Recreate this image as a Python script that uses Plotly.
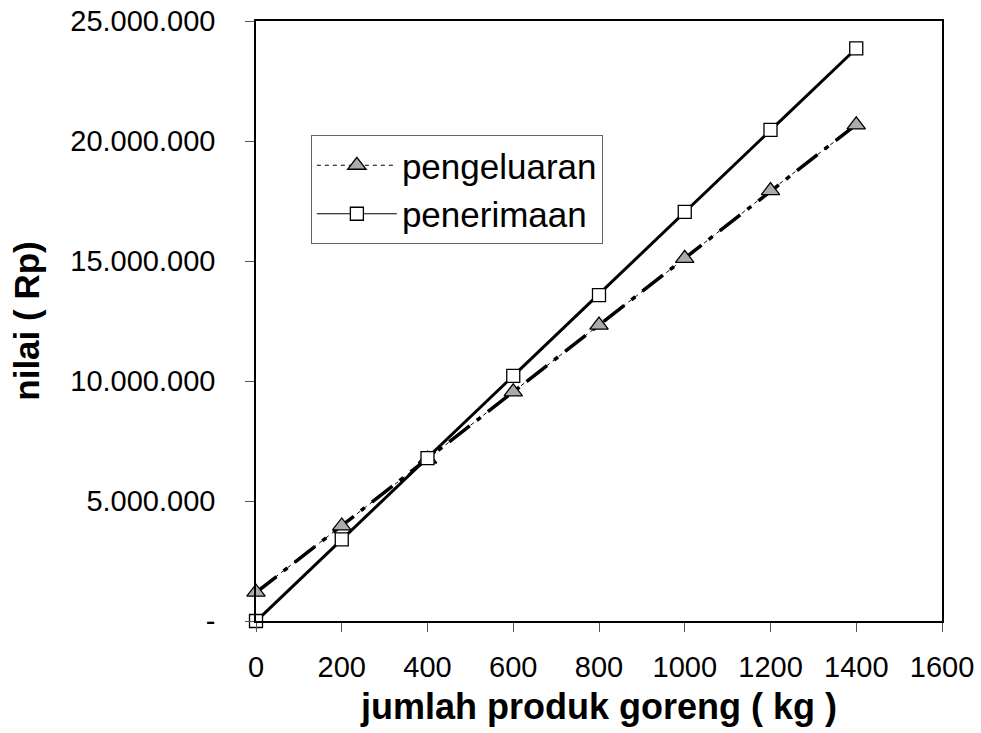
import numpy as np
import plotly.graph_objects as go

# Data
jumlah_kg = [0, 200, 400, 600, 800, 1000, 1200, 1400]
pengeluaran = [1200000, 3960000, 6750000, 9550000, 12330000, 15110000, 17930000, 20670000]
penerimaan = [0, 3400000, 6790000, 10210000, 13580000, 17050000, 20460000, 23860000]

y_tickvals = [0, 5000000, 10000000, 15000000, 20000000, 25000000]
y_ticktext = ["-", "5.000.000", "10.000.000", "15.000.000", "20.000.000", "25.000.000"]
x_tickvals = [0, 200, 400, 600, 800, 1000, 1200, 1400, 1600]

FONT = "Liberation Sans, Arial, sans-serif"

# linear trend lines (as in the spreadsheet chart)
xs = np.array(jumlah_kg, dtype=float)
trend_x = [xs.min(), xs.max()]
p_out = np.polyfit(xs, np.array(pengeluaran, dtype=float), 1)
p_in = np.polyfit(xs, np.array(penerimaan, dtype=float), 1)

fig = go.Figure()

# thick trend lines
fig.add_trace(go.Scatter(
    x=trend_x, y=list(np.polyval(p_out, trend_x)), mode="lines",
    line=dict(color="black", width=3.5, dash="26px,9px,5px,9px"),
    showlegend=False, hoverinfo="skip", cliponaxis=False))
fig.add_trace(go.Scatter(
    x=trend_x, y=list(np.polyval(p_in, trend_x)), mode="lines",
    line=dict(color="black", width=3), showlegend=False,
    hoverinfo="skip", cliponaxis=False))

# data series
fig.add_trace(go.Scatter(
    x=jumlah_kg, y=pengeluaran, mode="lines+markers", name="pengeluaran",
    line=dict(color="black", width=1, dash="4px,4px"),
    marker=dict(symbol="triangle-up", size=16, color="#ababab",
                line=dict(color="black", width=1.3)),
    cliponaxis=False))
fig.add_trace(go.Scatter(
    x=jumlah_kg, y=penerimaan, mode="lines+markers", name="penerimaan",
    line=dict(color="black", width=1),
    marker=dict(symbol="square", size=13, color="white",
                line=dict(color="black", width=1.3)),
    cliponaxis=False))

fig.update_layout(
    width=981, height=733,
    margin=dict(l=256, r=39, t=21, b=112, autoexpand=False),
    paper_bgcolor="white", plot_bgcolor="white",
    font=dict(family=FONT, color="black"),
    legend=dict(
        x=0.08, y=0.81, xanchor="left", yanchor="top",
        bgcolor="white", bordercolor="#666666", borderwidth=1,
        font=dict(size=35, family=FONT, color="black"),
        tracegroupgap=0, itemwidth=80,
    ),
    xaxis=dict(
        range=[0, 1600], tickvals=x_tickvals,
        showgrid=False, zeroline=False,
        showline=True, linecolor="black", linewidth=1.5, mirror=True,
        ticks="outside", ticklen=9, tickwidth=1, tickcolor="#555555",
        tickfont=dict(size=29, family=FONT, color="black"),
        ticklabelstandoff=10,
        title=dict(text="<b>jumlah produk goreng ( kg )</b>",
                   font=dict(size=36, family=FONT, color="black"), standoff=12),
    ),
    yaxis=dict(
        range=[0, 25000000], tickvals=y_tickvals, ticktext=y_ticktext,
        showgrid=False, zeroline=False,
        showline=True, linecolor="black", linewidth=1.5, mirror=True,
        ticks="outside", ticklen=9, tickwidth=1, tickcolor="#555555",
        tickfont=dict(size=29, family=FONT, color="black"),
        ticklabelstandoff=24,
        title=dict(text="<b>nilai ( Rp)</b>",
                   font=dict(size=35, family=FONT, color="black"), standoff=20),
    ),
)

fig.write_html("out.html")
